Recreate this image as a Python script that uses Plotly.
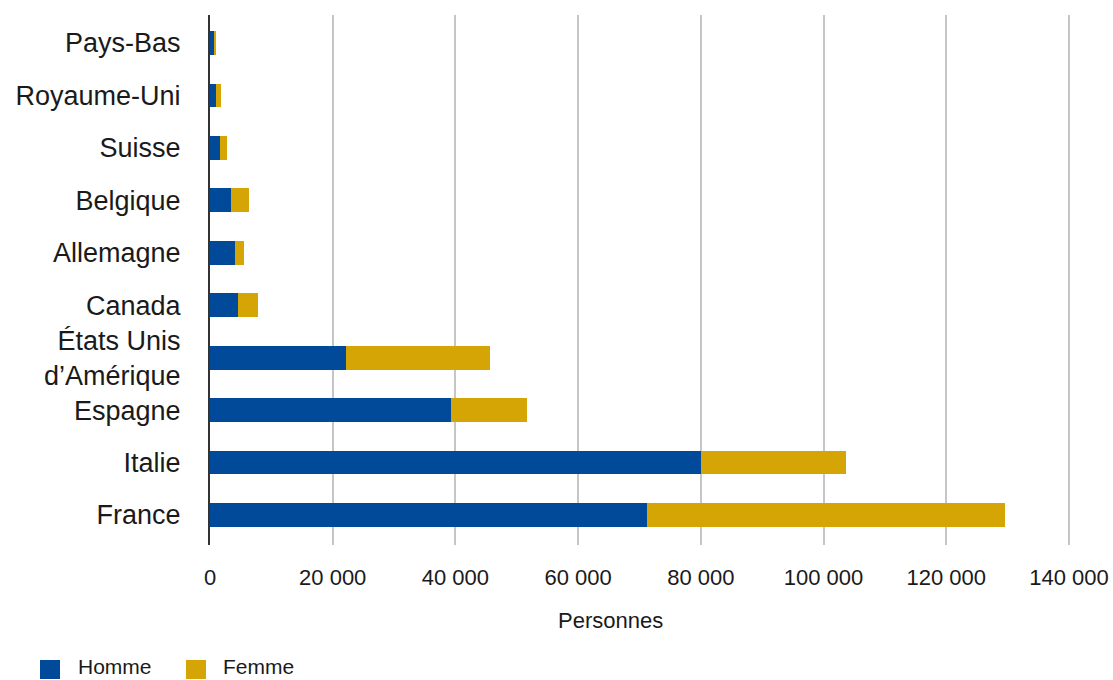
import plotly.graph_objects as go

pays = ["Pays-Bas", "Royaume-Uni", "Suisse", "Belgique", "Allemagne", "Canada",
        "États Unis<br>d’Amérique", "Espagne", "Italie", "France"]
homme = [700, 1050, 1700, 3500, 4000, 4500, 22100, 39200, 80000, 71200]
femme = [350, 800, 1150, 2800, 1500, 3400, 23500, 12400, 23700, 58400]
x_ticks = [0, 20000, 40000, 60000, 80000, 100000, 120000, 140000]
x_labels = ["0", "20 000", "40 000", "60 000", "80 000", "100 000", "120 000", "140 000"]
series_names = ["Homme", "Femme"]

BLUE = "#004a99"
GOLD = "#d4a504"
FONT = "Liberation Sans, Arial, sans-serif"
TXT = "#1a1a1a"

W, H = 1113, 680
L, T = 210, 15
bottom, right = 545, 1071
R, B = W - right, H - bottom
pw, ph = right - L, bottom - T


def px(x):
    return (x - L) / pw


def py(y):
    return (bottom - y) / ph


fig = go.Figure()
fig.add_trace(go.Bar(y=pays, x=homme, name=series_names[0], orientation="h",
                     marker=dict(color=BLUE, line=dict(width=0)), width=0.455, showlegend=False))
fig.add_trace(go.Bar(y=pays, x=femme, name=series_names[1], orientation="h",
                     marker=dict(color=GOLD, line=dict(width=0)), width=0.455, showlegend=False))

# legend drawn with shapes + text (larger squares than Plotly's legend allows)
legend_items = [(series_names[0], BLUE, 40, 76), (series_names[1], GOLD, 186, 221)]
shapes, annotations = [], []
for name, col, sx, tx in legend_items:
    shapes.append(dict(type="rect", xref="paper", yref="paper",
                       x0=px(sx), x1=px(sx + 20), y0=py(679), y1=py(660),
                       fillcolor=col, line=dict(width=0), layer="above"))
    annotations.append(dict(text=name, xref="paper", yref="paper", x=px(tx), y=py(666.5),
                            xanchor="left", yanchor="middle", showarrow=False,
                            font=dict(size=21, family=FONT, color=TXT)))
annotations.append(dict(text="Personnes", x=px(610), xref="paper", xanchor="center",
                        y=py(620), yref="paper", yanchor="middle",
                        showarrow=False, font=dict(size=22, family=FONT, color=TXT)))

fig.update_layout(
    width=W, height=H,
    barmode="stack",
    plot_bgcolor="white", paper_bgcolor="white",
    margin=dict(l=L, r=R, t=T, b=B, autoexpand=False),
    font=dict(family=FONT, color=TXT),
    showlegend=False,
    shapes=shapes,
    annotations=annotations,
)
fig.update_xaxes(range=[0, 140000 * pw / (1069 - 210)], tickvals=x_ticks, ticktext=x_labels,
                 automargin=False,
                 showgrid=True, gridcolor="#c6c6c6", gridwidth=1.5, zeroline=False,
                 showline=False, tickfont=dict(size=22, family=FONT, color=TXT),
                 ticks="", ticklabelstandoff=17)
fig.update_yaxes(categoryorder="array", categoryarray=pays, range=[9.572, -0.534],
                 automargin=False,
                 showline=True, linecolor="#333333", linewidth=2,
                 showgrid=False, ticks="", ticklabelstandoff=22,
                 tickfont=dict(size=27, family=FONT, color=TXT))

fig.write_html("out.html", config={"displayModeBar": False},
               post_script="document.body.style.margin='0px';document.body.style.overflow='hidden';")
